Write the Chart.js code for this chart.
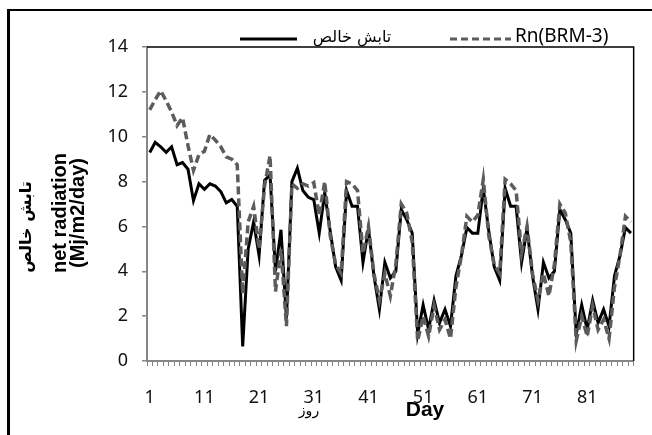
<!DOCTYPE html>
<html>
<head>
<meta charset="utf-8">
<script src="https://cdn.jsdelivr.net/npm/chart.js@4/dist/chart.umd.min.js"></script>
<style>
  html, body { margin: 0; padding: 0; background: #fff; }
  canvas { display: block; }
</style>
</head>
<body>
<canvas id="chart" width="652" height="435"></canvas>
<script>
// Day numbers on the category axis
const days = [
  1, 2, 3, 4, 5, 6, 7, 8, 9, 10, 11, 12, 13, 14, 15, 16, 17, 18, 19, 20,
  21, 22, 23, 24, 25, 26, 27, 28, 29, 30, 31, 32, 33, 34, 35, 36, 37, 38, 39, 40,
  41, 42, 43, 44, 45, 46, 47, 48, 49, 50, 51, 52, 53, 54, 55, 56, 57, 58, 59, 60,
  61, 62, 63, 64, 65, 66, 67, 68, 69, 70, 71, 72, 73, 74, 75, 76, 77, 78, 79, 80,
  81, 82, 83, 84, 85, 86, 87, 88, 89
];

// Days that carry a tick label
const labelledDays = [1, 11, 21, 31, 41, 51, 61, 71, 81];

// Measured net radiation (MJ/m2/day)
const netRadiation = [
  9.3, 9.75, 9.55, 9.3, 9.55, 8.75, 8.85, 8.55, 7.15, 7.9,
  7.65, 7.9, 7.8, 7.55, 7.05, 7.2, 6.9, 0.65, 5.0, 6.2,
  4.7, 8.05, 8.3, 4.0, 5.85, 1.9, 8.0, 8.6, 7.6, 7.3,
  7.2, 5.7, 7.5, 5.8, 4.2, 3.6, 7.6, 6.9, 6.9, 4.4,
  5.9, 3.8, 2.3, 4.4, 3.7, 4.0, 6.75, 6.3, 5.7, 1.2,
  2.5, 1.4, 2.7, 1.7, 2.3, 1.55, 3.8, 4.7, 5.95, 5.7,
  5.7, 7.7, 5.8, 4.2, 3.6, 7.7, 6.9, 6.9, 4.4, 5.9,
  3.8, 2.3, 4.4, 3.7, 4.0, 6.75, 6.3, 5.7, 1.2, 2.5,
  1.4, 2.7, 1.7, 2.3, 1.55, 3.8, 4.7, 5.95, 5.7
];

// Modelled net radiation, BRM-3
const rnBRM3 = [
  11.2, 11.65, 12.05, 11.6, 11.1, 10.5, 10.85, 9.6, 8.5, 9.2,
  9.35, 10.1, 9.85, 9.55, 9.1, 9.0, 8.75, 3.0, 6.2, 6.9,
  5.0, 7.8, 9.15, 3.1, 5.0, 1.55, 7.9, 7.7, 7.9, 7.8,
  7.95, 6.5, 8.0, 5.6, 4.3, 3.9, 8.0, 7.9, 7.6, 4.8,
  6.0, 3.9, 2.7, 3.9, 2.9, 4.3, 7.0, 6.6, 5.3, 0.9,
  2.0, 1.1, 2.45, 1.4, 1.85, 1.0, 3.3, 4.7, 6.45, 6.2,
  6.5, 8.1, 5.6, 4.3, 3.9, 8.1, 7.9, 7.6, 4.8, 6.0,
  3.9, 2.7, 3.9, 2.9, 4.3, 7.0, 6.6, 5.3, 0.9, 2.0,
  1.1, 2.45, 1.4, 1.85, 1.0, 3.3, 4.7, 6.45, 6.2
];

const seriesNames = ['تابش خالص', 'Rn(BRM-3)'];
const yTitleLines = ['تابش خالص', 'net radiation', '(Mj/m2/day)'];
const xTitleFa = 'روز';
const xTitleEn = 'Day';

const AXIS_GREY = '#868686';
const SERIES_GREY = '#5c5c5c';
const DASH = [8, 4];

// draw text centred on cx by measuring it, so right-to-left runs centre correctly
function centredText(ctx, text, cx, y) {
  const w = ctx.measureText(text).width;
  ctx.textAlign = 'left';
  ctx.fillText(text, cx - w / 2, y);
}

// Frame, plot border, legend and axis titles
const decorations = {
  id: 'decorations',
  afterDraw(chart) {
    const ctx = chart.ctx;
    const a = chart.chartArea;
    ctx.save();

    // outer frame (left and top edges)
    ctx.fillStyle = '#000';
    ctx.fillRect(7, 9, 3, 430);
    ctx.fillRect(7, 9, 650, 2);

    // plot area top and right border
    ctx.strokeStyle = '#000';
    ctx.lineWidth = 1.5;
    ctx.beginPath();
    ctx.moveTo(a.left, a.top);
    ctx.lineTo(a.right, a.top);
    ctx.lineTo(a.right, a.bottom);
    ctx.stroke();

    // legend
    const ly = a.top - 8;
    ctx.lineWidth = 3;
    ctx.strokeStyle = '#000';
    ctx.setLineDash([]);
    ctx.beginPath();
    ctx.moveTo(240, ly); ctx.lineTo(297, ly);
    ctx.stroke();
    ctx.strokeStyle = SERIES_GREY;
    ctx.lineWidth = 3;
    ctx.setLineDash([7, 4]);
    ctx.beginPath();
    ctx.moveTo(450, ly); ctx.lineTo(511, ly);
    ctx.stroke();
    ctx.setLineDash([]);

    ctx.fillStyle = '#000';
    ctx.textBaseline = 'alphabetic';
    ctx.direction = 'ltr';
    ctx.font = '16px "DejaVu Sans"';
    centredText(ctx, seriesNames[0], 352, ly + 3);
    ctx.font = '19px "Noto Sans"';
    ctx.textAlign = 'left';
    ctx.fillText(seriesNames[1], 515, ly + 3);

    // y axis title, three rotated lines
    const yc = (a.top + a.bottom) / 2 + 9;
    ctx.translate(0, yc);
    ctx.rotate(-Math.PI / 2);
    ctx.font = 'bold 16px "DejaVu Sans"';
    centredText(ctx, yTitleLines[0], -14, 31);
    ctx.font = 'bold 20px "Liberation Sans"';
    centredText(ctx, yTitleLines[1], 0, 66);
    centredText(ctx, yTitleLines[2], 0, 84);
    ctx.setTransform(1, 0, 0, 1, 0, 0);

    // x axis titles
    ctx.font = '14px "DejaVu Sans"';
    centredText(ctx, xTitleFa, 309, 415);
    ctx.font = 'bold 21px "Liberation Sans"';
    centredText(ctx, xTitleEn, 425, 416);

    ctx.restore();
  }
};

new Chart(document.getElementById('chart'), {
  type: 'line',
  data: {
    labels: days,
    datasets: [
      {
        label: seriesNames[0],
        data: netRadiation,
        borderColor: '#000',
        borderWidth: 3,
        pointRadius: 0,
        tension: 0,
        order: 1
      },
      {
        label: seriesNames[1],
        data: rnBRM3,
        borderColor: SERIES_GREY,
        borderWidth: 3.5,
        borderDash: DASH,
        pointRadius: 0,
        tension: 0,
        order: 0
      }
    ]
  },
  options: {
    responsive: false,
    devicePixelRatio: 1,
    animation: false,
    events: [],
    layout: { padding: { left: 0, top: 47, right: 13, bottom: 0 } },
    plugins: {
      legend: { display: false },
      tooltip: { enabled: false },
      title: { display: false }
    },
    scales: {
      x: {
        offset: true,
        ticks: {
          autoSkip: false,
          maxRotation: 0,
          minRotation: 0,
          padding: 21,
          color: '#111',
          font: { family: 'Noto Sans', size: 18 },
          callback: function (value, index) {
            const d = days[index];
            return labelledDays.includes(d) ? String(d) : '';
          }
        },
        grid: {
          offset: true,
          drawOnChartArea: false,
          drawTicks: true,
          tickLength: 5,
          color: AXIS_GREY,
          lineWidth: 1
        },
        border: { display: true, color: AXIS_GREY, width: 2 },
        afterFit(scale) { scale.height = 74; }
      },
      y: {
        min: 0,
        max: 14,
        ticks: {
          stepSize: 2,
          padding: 14,
          color: '#111',
          font: { family: 'Noto Sans', size: 18 }
        },
        grid: {
          drawOnChartArea: false,
          drawTicks: true,
          tickLength: 5,
          color: AXIS_GREY,
          lineWidth: 1.5
        },
        border: { display: true, color: AXIS_GREY, width: 2 },
        afterFit(scale) { scale.width = 147; }
      }
    }
  },
  plugins: [decorations]
});
</script>
</body>
</html>
